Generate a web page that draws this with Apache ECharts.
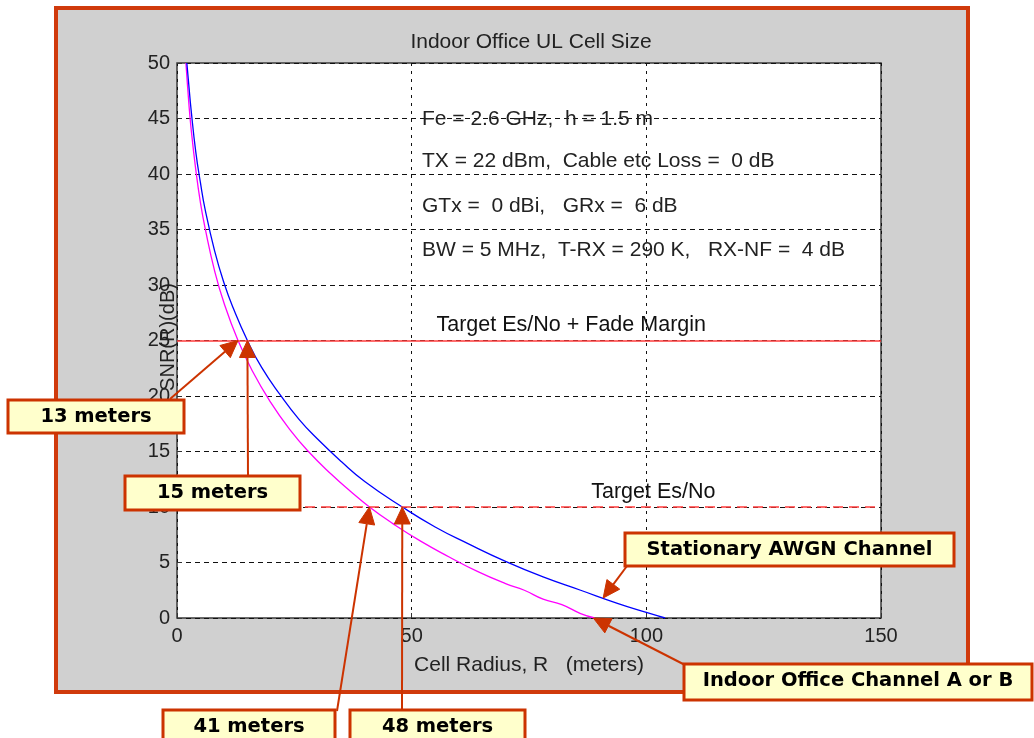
<!DOCTYPE html>
<html>
<head>
<meta charset="utf-8">
<script src="https://cdn.jsdelivr.net/npm/echarts@6/dist/echarts.min.js"></script>
<style>
html, body { margin: 0; background: #fff; }
#chart { width: 1034px; height: 738px; }
</style>
</head>
<body>
<div id="chart"></div>
<script>
// cell radius (m) / SNR (dB)
var awgnR   = [2.1, 2.5, 3, 4, 5, 6, 8, 10, 12, 15, 18, 22, 26, 30, 35, 40, 48, 55, 62, 70, 78, 86, 94, 100, 104];
var awgnSNR = [50, 48.1, 45.8, 42.0, 39.2, 36.8, 33.1, 30.2, 27.9, 25.0, 22.6, 20.1, 17.9, 16.1, 14.1, 12.3, 10.0, 8.2, 6.7, 5.1, 3.7, 2.5, 1.3, 0.5, 0];

var indoorR   = [1.9, 2.5, 3, 4, 5, 6, 8, 10, 13, 16, 20, 24, 28, 33, 37, 41, 46, 52, 58, 64, 70, 74, 78, 82, 86, 89];
var indoorSNR = [50, 46.5, 44.1, 40.4, 37.4, 35.1, 31.3, 28.4, 25.0, 22.3, 19.4, 17.0, 15.0, 12.9, 11.4, 10.0, 8.5, 6.9, 5.5, 4.2, 3.1, 2.5, 1.7, 1.2, 0.4, 0];

var targetFade = 25;   // Target Es/No + Fade Margin
var targetEsNo = 10;   // Target Es/No

var xTicks = [0, 50, 100, 150];
var yTicks = [0, 5, 10, 15, 20, 25, 30, 35, 40, 45, 50];

var paramLines = [
    'Fe = 2.6 GHz,  h = 1.5 m',
    'TX = 22 dBm,  Cable etc Loss =  0 dB',
    'GTx =  0 dBi,   GRx =  6 dB',
    'BW = 5 MHz,  T-RX = 290 K,   RX-NF =  4 dB'
];

var calloutText = ['13 meters', '15 meters', '41 meters', '48 meters', 'Stationary AWGN Channel', 'Indoor Office Channel A or B'];
var calloutTip  = [[13, 25], [15, 25], [41, 10], [48, 10], [90.8, 1.8], [88.7, 0]];

function zip(a, b) {
    var out = [];
    for (var i = 0; i < a.length; i++) out.push([a[i], b[i]]);
    return out;
}

var myChart = echarts.init(document.getElementById('chart'));
var sans = '"Liberation Sans", Arial, sans-serif';
var RED = '#cc3300';

var option = {
    animation: false,
    backgroundColor: '#fff',
    title: {
        text: 'Indoor Office UL Cell Size',
        left: 526, top: 27, textAlign: 'center',
        textStyle: { fontFamily: sans, fontSize: 21, fontWeight: 'normal', color: '#222' }
    },
    grid: {
        left: 177, top: 63, width: 704, height: 555,
        show: true, backgroundColor: '#fff', borderColor: '#3a3a3a', borderWidth: 1.5
    },
    xAxis: {
        type: 'value', min: xTicks[0], max: xTicks[xTicks.length - 1], interval: 50,
        name: 'Cell Radius, R   (meters)', nameLocation: 'middle', nameGap: 37,
        nameTextStyle: { fontFamily: sans, fontSize: 21, color: '#222' },
        axisLine: { show: false },
        axisTick: { inside: true, length: 5, lineStyle: { color: '#333' } },
        axisLabel: { fontFamily: sans, fontSize: 20, color: '#222', margin: 8 },
        splitLine: { show: true, lineStyle: { color: '#111', type: [3, 5], width: 1 } }
    },
    yAxis: {
        type: 'value', min: yTicks[0], max: yTicks[yTicks.length - 1], interval: 5,
        axisLine: { show: false },
        axisTick: { inside: true, length: 5, lineStyle: { color: '#333' } },
        axisLabel: { fontFamily: sans, fontSize: 20, color: '#222', margin: 7 },
        splitLine: { show: true, lineStyle: { color: '#111', type: [5, 4], width: 1 } }
    },
    series: [
        {
            name: 'Stationary AWGN Channel', type: 'line', data: zip(awgnR, awgnSNR),
            smooth: true, showSymbol: false, lineStyle: { color: '#0000ff', width: 1.3 }, z: 4,
            markLine: {
                silent: true, symbol: 'none', label: { show: false },
                data: [
                    { yAxis: targetFade, lineStyle: { color: '#ff3b3b', width: 1.6, type: 'solid' } },
                    { yAxis: targetEsNo, lineStyle: { color: '#ff3b3b', width: 1.6, type: [10, 6] } }
                ]
            }
        },
        {
            name: 'Indoor Office Channel A or B', type: 'line', data: zip(indoorR, indoorSNR),
            smooth: true, showSymbol: false, lineStyle: { color: '#ff00ff', width: 1.3 }, z: 3
        }
    ]
};
myChart.setOption(option);

// frame, texts and callouts
var g = [];
g.push({ type: 'rect', z: -10, shape: { x: 56, y: 8, width: 912, height: 684 },
    style: { fill: '#d0d0d0', stroke: '#d03a0c', lineWidth: 4 } });

g.push({ type: 'text', z: 6, x: 168, y: 337, rotation: Math.PI / 2,
    style: { text: 'SNR(R)(dB)', fill: '#222', font: '20px ' + sans, textAlign: 'center', textVerticalAlign: 'middle' } });

var lineY = [119, 161, 206, 250];
paramLines.forEach(function (t, i) {
    g.push({ type: 'text', z: 5, x: 422, y: lineY[i],
        style: { text: t, fill: '#222', font: '21px ' + sans, textVerticalAlign: 'middle' } });
});

var pFade = myChart.convertToPixel('grid', [84, targetFade]);
var pEs = myChart.convertToPixel('grid', [101.5, targetEsNo]);
g.push({ type: 'text', z: 5, x: pFade[0], y: pFade[1] - 15,
    style: { text: 'Target Es/No + Fade Margin', fill: '#111', font: '21.5px ' + sans, textAlign: 'center', textVerticalAlign: 'middle' } });
g.push({ type: 'text', z: 5, x: pEs[0], y: pEs[1] - 15,
    style: { text: 'Target Es/No', fill: '#111', font: '21.5px ' + sans, textAlign: 'center', textVerticalAlign: 'middle' } });

// box [x, y, w, h] and start of leader line
var boxes = [
    { b: [8, 400, 176, 33], s: [170, 399] },
    { b: [125, 476, 175, 34], s: [248, 476] },
    { b: [163, 710, 172, 36], s: [337, 711] },
    { b: [350, 710, 175, 36], s: [402, 710] },
    { b: [625, 533, 329, 33], s: [627, 566] },
    { b: [684, 664, 348, 36], s: [687, 666] }
];

boxes.forEach(function (bx, i) {
    var tip = myChart.convertToPixel('grid', calloutTip[i]);
    var s = bx.s;
    var dx = tip[0] - s[0], dy = tip[1] - s[1];
    var len = Math.sqrt(dx * dx + dy * dy);
    var ux = dx / len, uy = dy / len;
    var al = 17, aw = 8;
    var bxp = tip[0] - ux * al, byp = tip[1] - uy * al;
    g.push({ type: 'line', z: 20, shape: { x1: s[0], y1: s[1], x2: bxp, y2: byp },
        style: { stroke: RED, lineWidth: 2 } });
    g.push({ type: 'polygon', z: 20, shape: { points: [
        [tip[0], tip[1]], [bxp - uy * aw, byp + ux * aw], [bxp + uy * aw, byp - ux * aw]] },
        style: { fill: RED, stroke: RED, lineWidth: 1 } });
    var b = bx.b;
    g.push({ type: 'rect', z: 21, shape: { x: b[0], y: b[1], width: b[2], height: b[3] },
        style: { fill: '#ffffcc', stroke: RED, lineWidth: 3 } });
    g.push({ type: 'text', z: 22, x: b[0] + b[2] / 2, y: b[1] + 17,
        style: { text: calloutText[i], fill: '#000', font: 'bold 19.5px "DejaVu Sans", Verdana, sans-serif',
            textAlign: 'center', textVerticalAlign: 'middle' } });
});

myChart.setOption({ graphic: g });
</script>
</body>
</html>
